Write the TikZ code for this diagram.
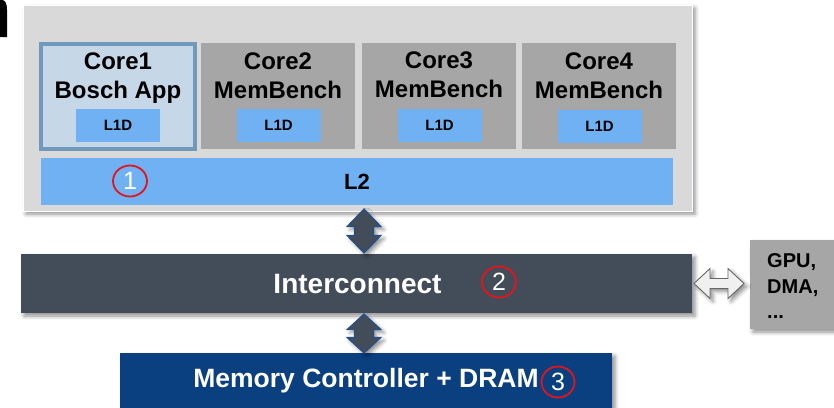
\documentclass[tikz,border=0pt]{standalone}
\usepackage{fontspec}
\setmainfont{Liberation Sans}
\usetikzlibrary{calc,shapes.geometric,shadows.blur}

\definecolor{panelgray}{HTML}{D9D9D9}
\definecolor{coregray}{HTML}{A6A6A6}
\definecolor{cacheblue}{HTML}{70B1F3}
\definecolor{appfill}{HTML}{C6D7E8}
\definecolor{appedge}{HTML}{7099BC}
\definecolor{busgray}{HTML}{434C59}
\definecolor{memblue}{HTML}{0B4080}
\definecolor{arrowedge}{HTML}{1F4F8F}
\definecolor{markred}{HTML}{E5141B}

% double-headed block arrow, vertical, from tip #1 to tip #2
\newcommand{\vfatarrow}[2]{%
  \path[fatarrow] (#1)
    -- ($(#1)!0.4!(#2)+(17,0)$) -- ($(#1)!0.4!(#2)+(9.5,0)$)
    -- ($(#1)!0.6!(#2)+(9.5,0)$) -- ($(#1)!0.6!(#2)+(17,0)$)
    -- (#2)
    -- ($(#1)!0.6!(#2)+(-17,0)$) -- ($(#1)!0.6!(#2)+(-9.5,0)$)
    -- ($(#1)!0.4!(#2)+(-9.5,0)$) -- ($(#1)!0.4!(#2)+(-17,0)$)
    -- cycle;}

% double-headed block arrow, horizontal, hollow
\newcommand{\hfatarrow}[2]{%
  \path[hollowarrow] (#1)
    -- ($(#1)!0.32!(#2)+(0,-15)$) -- ($(#1)!0.32!(#2)+(0,-5)$)
    -- ($(#1)!0.68!(#2)+(0,-5)$) -- ($(#1)!0.68!(#2)+(0,-15)$)
    -- (#2)
    -- ($(#1)!0.68!(#2)+(0,15)$) -- ($(#1)!0.68!(#2)+(0,5)$)
    -- ($(#1)!0.32!(#2)+(0,5)$) -- ($(#1)!0.32!(#2)+(0,15)$)
    -- cycle;}

\begin{document}
\begin{tikzpicture}[x=1pt,y=-1pt,
  box/.style={rectangle, inner sep=0pt, outer sep=0pt},
  softshadow/.style={blur shadow={shadow xshift=3pt, shadow yshift=-3pt,
      shadow blur radius=4pt, shadow opacity=45}},
  corebox/.style={box, fill=coregray, minimum width=154pt, minimum height=106pt},
  coretext/.style={inner sep=0pt, anchor=north, align=center,
      font=\fontsize{24}{29}\selectfont\bfseries},
  l1box/.style={box, fill=cacheblue, minimum width=84pt, minimum height=33pt,
      font=\fontsize{15}{18}\selectfont\bfseries},
  marker/.style={ellipse, draw=markred, line width=1.8pt, inner sep=0pt,
      minimum width=34pt, minimum height=31pt, text=white,
      font=\fontsize{25}{25}\selectfont},
  fatarrow/.style={fill=busgray, draw=arrowedge, line width=1.1pt,
      line join=miter, softshadow},
  hollowarrow/.style={fill=white!94!black, draw=black!60, line width=0.9pt,
      line join=miter, softshadow}
]
\useasboundingbox (0,0) rectangle (834,407);
\clip (0,0) rectangle (834,407);

% cut-off heading glyph in the corner
\fill[black] (0,0) -- (2,0) .. controls (5.5,0) and (7,4) .. (7,10)
  -- (7,37) -- (0,37) -- cycle;

% cluster panel
\node[box, fill=panelgray, draw=white, line width=1pt, softshadow,
  minimum width=669pt, minimum height=206pt] (panel) at (357.5,108) {};

% cores
\node[box, fill=appfill, draw=appedge, line width=4pt,
  minimum width=154pt, minimum height=105pt] (core1) at (118,96.5) {};
\node[corebox] (core2) at (278,96) {};
\node[corebox] (core3) at (439,96) {};
\node[corebox] (core4) at (599,96) {};

\node[coretext] (t1) at (118,52.5) {Core1\\Bosch App};
\node[coretext] (t2) at (278,52.5) {Core2\\MemBench};
\node[coretext] (t3) at (439,52) {Core3\\MemBench};
\node[coretext] (t4) at (599,52.5) {Core4\\MemBench};

\node[l1box] (l1a) at (118,125.5) {L1D};
\node[l1box] (l1b) at (278.5,125.5) {L1D};
\node[l1box] (l1c) at (439.5,125) {L1D};
\node[l1box] (l1d) at (599.5,126) {L1D};

% shared cache
\node[box, fill=cacheblue, minimum width=632pt, minimum height=47pt,
  font=\fontsize{22}{24}\selectfont\bfseries] (l2) at (357,181.5) {L2};

% interconnect
\node[box, fill=busgray, softshadow, minimum width=671pt, minimum height=59pt,
  text=white, font=\fontsize{28}{30}\selectfont\bfseries] (ic) at (356.5,283.5)
  {\hspace*{2pt}Interconnect};

% memory
\node[box, fill=memblue, softshadow, minimum width=492pt, minimum height=56pt,
  text=white, font=\fontsize{26.5}{30}\selectfont\bfseries] (mem) at (366,381)
  {Memory Controller + DRAM};

% other bus masters
\node[box, fill=coregray, softshadow, minimum width=95pt, minimum height=89pt]
  (gpu) at (797.5,284.5) {};
\node[inner sep=0pt, anchor=north west, align=left,
  font=\fontsize{20}{25.5}\selectfont\bfseries] (gputext) at (767,253.5)
  {GPU,\\DMA,\\...};

% connectors
\coordinate (axis) at (364,0);
\coordinate (upA) at ([yshift=2pt]panel.south -| axis);
\coordinate (upB) at ([yshift=1pt]ic.north -| axis);
\coordinate (loA) at ([yshift=-1pt]ic.south -| axis);
\coordinate (loB) at (mem.north -| axis);
\vfatarrow{upA}{upB}
\vfatarrow{loA}{loB}

\coordinate (sideA) at ([xshift=2pt]ic.east);
\coordinate (sideB) at ([xshift=-6pt]gpu.west |- ic.east);
\hfatarrow{sideA}{sideB}

% numbered markers
\node[marker] (m1) at (130,181) {1};
\node[marker] (m2) at (499,282) {2};
\node[marker, minimum width=33pt] (m3) at (558,382) {3};
\end{tikzpicture}
\end{document}
